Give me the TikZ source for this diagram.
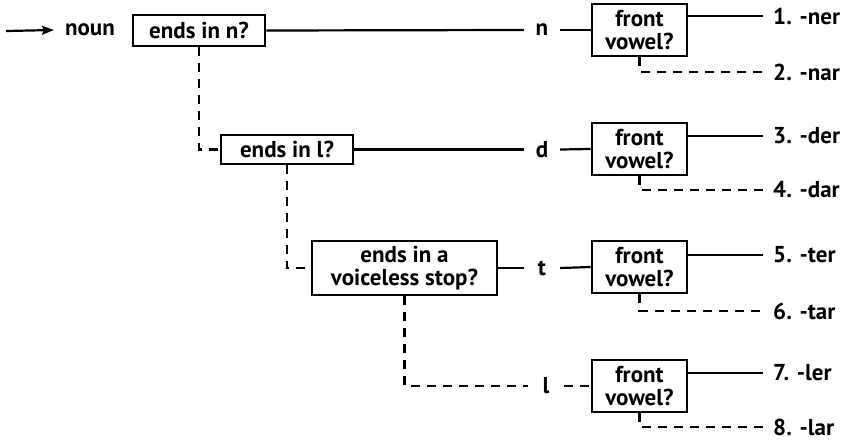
\documentclass[tikz,border=0pt]{standalone}
\usepackage{fontspec}
\setmainfont{PT Sans}
\usetikzlibrary{arrows.meta}
\begin{document}
\begin{tikzpicture}[x=1pt,y=1pt,
  every node/.style={font=\fontsize{23}{23}\selectfont\bfseries},
  qbox/.style={draw,line width=2.8pt,align=center,inner sep=0pt},
  fbox/.style={qbox,minimum width=95pt,minimum height=52pt},
  letter/.style={inner sep=0pt,minimum width=36pt,minimum height=14pt},
  outcome/.style={anchor=west,inner xsep=10pt,inner ysep=0pt},
  link/.style={line width=2.2pt},
  alt/.style={line width=2.2pt,dash pattern=on 9pt off 7pt}]
\useasboundingbox (0,0) rectangle (845,-442);

% entry arrow and the three questions on the consonant
\coordinate (start) at (6,-31);
\node[inner sep=0pt] (noun) at (90,-30) {noun};
\node[qbox,minimum width=132pt,minimum height=31pt] (q1) at (199,-30.5) {ends in n?};
\node[qbox,minimum width=132pt,minimum height=29pt] (q2) at (287,-149.5) {ends in l?};
\node[qbox,minimum width=185pt,minimum height=54pt] (q3) at (404.5,-268) {ends in a\\voiceless stop?};

% consonant letters
\node[letter] (n) at (542,-30) {n};
\node[letter] (d) at (542,-149.5) {d};
\node[letter] (t) at (542,-268) {t};
\node[letter] (l) at (546,-386) {l};

% front-vowel tests
\node[fbox] (f1) at (639.5,-30) {front\\vowel?};
\node[fbox] (f2) at (639.5,-149) {front\\vowel?};
\node[fbox] (f3) at (639.5,-267) {front\\vowel?};
\node[fbox] (f4) at (639.5,-386) {front\\vowel?};

% suffixes
\node[outcome] (o1) at (763,-16) {1. -ner};
\node[outcome] (o2) at (763,-72) {2. -nar};
\node[outcome] (o3) at (763,-136) {3. -der};
\node[outcome] (o4) at (763,-190) {4. -dar};
\node[outcome] (o5) at (763,-255) {5. -ter};
\node[outcome] (o6) at (763,-311) {6. -tar};
\node[outcome] (o7) at (763,-373) {7. -ler};
\node[outcome] (o8) at (763,-427) {8. -lar};

% connectors
\draw[link,-{Stealth[length=12pt,width=9pt,inset=2pt]}] (start) -- ([xshift=-11pt]noun.west);
\draw[link] (q1.east) -- (n.west);
\draw[link] (q2.east) -- (d.west);
\draw[link] (q3.east) -- (t.west);
\draw[alt] (q1.south) |- (q2.west);
\draw[alt] (q2.south) |- (q3.west);
\draw[alt] (q3.south) |- (l.west);

\draw[link] (n.east) -- (f1.west);
\draw[link] (d.east) -- (f2.west);
\draw[link] (t.east) -- (f3.west);
\draw[alt] (l.east) -- (f4.west);

\foreach \f/\y/\n in {f1/o1/o2, f2/o3/o4, f3/o5/o6, f4/o7/o8}{
  \draw[link] (\f.east |- \y.west) -- (\y.west);
  \draw[alt] (\f.south) |- (\n.west);
}
\end{tikzpicture}
\end{document}
